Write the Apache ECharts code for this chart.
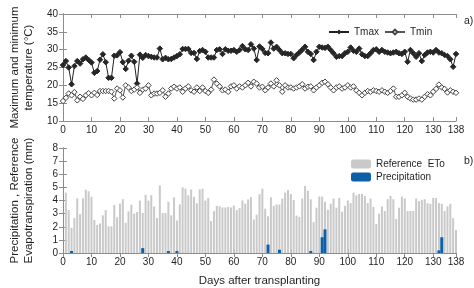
<!DOCTYPE html>
<html><head><meta charset="utf-8">
<script src="https://cdn.jsdelivr.net/npm/echarts@6/dist/echarts.min.js"></script>
<style>html,body{margin:0;padding:0;background:#fff}#c{width:474px;height:288px}</style>
</head><body><div id="c"></div>
<script>
// Daily temperatures, day 0 .. 138
const tmax = [25.7,26.8,25.0,20.3,25.4,26.8,26.1,27.3,27.8,27.1,
26.4,23.5,24.0,27.2,28.7,26.5,22.1,22.1,28.3,28.4,
29.3,26.5,24.6,26.9,28.3,26.6,20.5,28.6,27.7,28.5,
28.2,28.0,27.8,27.8,30.3,27.3,27.7,27.3,27.4,27.8,
28.2,28.7,30.2,30.2,30.2,29.1,29.1,27.4,29.6,29.9,
29.4,27.8,27.8,27.8,29.9,30.1,28.8,30.1,29.7,29.7,
29.9,29.4,29.9,31.0,30.1,29.9,31.5,30.3,27.1,30.9,
30.2,29.1,29.0,32.0,30.3,30.8,29.9,29.0,29.0,28.8,
28.8,27.6,28.5,29.2,30.0,30.8,29.4,28.8,27.1,29.4,
30.8,30.6,30.5,30.8,29.9,29.0,28.0,28.2,28.2,29.0,
29.4,30.6,29.7,29.4,30.3,28.7,28.2,28.2,29.0,29.9,
30.1,29.4,29.9,29.4,29.2,29.0,29.2,29.4,29.0,28.8,
29.4,26.6,29.9,29.0,28.0,29.0,26.8,28.5,29.2,29.4,
29.2,29.9,29.2,29.0,28.5,28.2,27.3,25.2,28.8];
const tmin = [15.6,16.5,17.7,17.2,18.1,15.8,16.8,16.2,17.2,17.8,
17.2,17.9,17.3,18.4,18.4,18.4,18.4,18.2,16.3,19.1,
18.6,16.6,20.0,19.4,18.4,18.8,19.4,17.9,18.8,19.1,
20.0,17.2,17.7,17.7,17.9,18.6,16.8,17.7,19.1,19.6,
19.1,19.4,18.2,19.1,19.7,18.6,18.2,19.4,18.4,19.4,
18.4,17.9,18.8,21.6,20.5,19.7,18.6,18.8,18.2,19.7,
20.0,19.1,19.7,19.4,20.0,20.7,19.7,21.0,20.5,19.4,
19.6,18.6,19.4,20.5,19.7,21.4,20.0,18.2,20.0,19.4,
19.4,19.1,19.4,19.7,20.3,19.1,19.6,19.7,18.6,19.4,
20.0,20.7,21.0,20.3,19.4,18.6,19.4,19.7,19.1,19.4,
20.0,19.4,19.7,18.6,17.9,17.2,17.9,18.4,18.2,18.6,
18.4,18.2,18.6,18.2,17.9,18.4,19.1,16.8,16.8,17.2,
17.9,16.8,16.3,16.0,16.0,16.3,16.0,16.8,17.5,17.2,
18.2,19.0,20.2,19.4,19.0,18.0,18.6,18.2,17.9];
// Reference ETo, day 1 .. 138
const eto = [4.6,3.27,1.93,2.67,4.16,2.97,4.16,4.83,4.7,4.28,
2.52,2.13,2.25,2.87,3.27,2.03,2.03,3.66,2.72,3.76,
4.1,2.3,3.17,3.69,3.0,3.12,3.99,3.04,4.43,3.99,
4.4,3.54,2.67,5.15,3.04,3.04,3.9,2.87,4.23,2.48,
3.71,5.0,4.9,4.4,4.83,4.28,3.79,4.85,4.9,4.0,
4.2,2.43,3.19,3.59,3.56,3.47,3.47,3.5,3.47,3.61,
3.27,3.42,4.0,3.76,4.08,4.26,2.55,2.92,4.48,4.9,
3.37,2.8,4.25,3.6,3.7,3.7,4.15,4.6,4.8,4.5,
4.05,2.85,2.75,4.15,5.1,4.75,4.1,2.35,3.45,4.3,
4.3,3.9,3.3,3.75,4.15,3.45,4.2,3.15,3.6,4.0,
3.8,4.6,4.4,4.5,4.5,4.35,3.8,4.15,3.5,2.2,
3.0,3.55,3.2,4.1,4.35,4.1,2.6,3.45,4.3,4.15,
3.2,3.2,3.2,4.15,3.95,4.05,4.1,3.8,3.75,4.2,
4.2,3.8,3.75,3.2,3.55,3.75,2.65,1.75];
const precipDays = [3,28,37,40,72,76,87,91,92,132,133];
const precipVals = [0.15,0.37,0.15,0.15,0.64,0.25,0.15,1.2,1.8,0.2,1.2];
const xTicksMax = 138;

const font = 'Liberation Sans, Arial, sans-serif';
const axisCol = '#8c8c8c';
const txtCol = '#1f1f1f';
const tickFs = 10, nameFs = 11.5, legFs = 10;
function xAx(grid, pos, labels, extra) {
  return Object.assign({
    type: 'value', gridIndex: grid, position: pos, min: 0, max: xTicksMax, interval: 10,
    axisLine: {show: true, lineStyle: {color: axisCol, width: 1}},
    axisTick: {show: true, inside: true, length: 4, lineStyle: {color: axisCol}},
    axisLabel: {show: labels, color: txtCol, fontSize: tickFs, fontFamily: font, margin: 4,
      showMaxLabel: true, showMinLabel: true},
    splitLine: {show: false}
  }, extra || {});
}
function yAx(grid, pos, min, max, itv, labels, extra) {
  return Object.assign({
    type: 'value', gridIndex: grid, position: pos, min: min, max: max, interval: itv,
    axisLine: {show: true, lineStyle: {color: axisCol, width: 1}},
    axisTick: {show: true, inside: true, length: 4, lineStyle: {color: axisCol}},
    axisLabel: {show: labels, color: txtCol, fontSize: tickFs, fontFamily: font, margin: 5},
    splitLine: {show: false}
  }, extra || {});
}
const chart = echarts.init(document.getElementById('c'), null, {renderer: 'canvas'});
chart.setOption({
  animation: false,
  backgroundColor: '#fff',
  textStyle: {fontFamily: font},
  grid: [
    {left: 47, right: 18, top: 14, height: 107},
    {left: 47, right: 18, top: 148, height: 108}
  ],
  xAxis: [
    xAx(0, 'bottom', true),
    xAx(0, 'top', false),
    xAx(1, 'bottom', true, {name: 'Days after transplanting', nameLocation: 'middle', nameGap: 22,
      nameTextStyle: {color: txtCol, fontSize: nameFs, fontFamily: font}}),
    xAx(1, 'top', false)
  ],
  yAxis: [
    yAx(0, 'left', 10, 40, 5, true, {name: 'Maximum and minimum\ntemperature (°C)', nameLocation: 'middle',
      nameGap: 27, nameRotate: 90, nameTextStyle: {color: txtCol, fontSize: nameFs, fontFamily: font, lineHeight: 14}}),
    yAx(0, 'right', 10, 40, 5, false),
    yAx(1, 'left', 0, 8, 1, true, {name: 'Precipitation , Reference\nEvapotranspiration (mm)', nameLocation: 'middle',
      nameGap: 27, nameRotate: 90, nameTextStyle: {color: txtCol, fontSize: nameFs, fontFamily: font, lineHeight: 14}}),
    yAx(1, 'right', 0, 8, 1, false)
  ],
  legend: [
    {data: ['Tmax', 'Tmin'], left: 328, top: 27, itemWidth: 20, itemHeight: 6, itemGap: 5,
      textStyle: {color: txtCol, fontSize: legFs, fontFamily: font}, padding: 0},
    {data: ['Reference  ETo', 'Precipitation'], orient: 'vertical', left: 351, top: 158,
      itemWidth: 20, itemHeight: 9, itemGap: 1, padding: 0,
      textStyle: {color: txtCol, fontSize: legFs, fontFamily: font, lineHeight: 12}}
  ],
  graphic: [
    {type: 'text', left: 464, top: 16, style: {text: 'a)', fill: txtCol, fontSize: 10.5, fontFamily: font}},
    {type: 'text', left: 464, top: 156, style: {text: 'b)', fill: txtCol, fontSize: 10.5, fontFamily: font}}
  ],
  series: [
    {name: 'Tmax', type: 'line', xAxisIndex: 0, yAxisIndex: 0,
      data: tmax.map((v, i) => [i, v]),
      symbol: 'diamond', symbolSize: 5.5, showSymbol: true,
      lineStyle: {color: '#222', width: 1}, itemStyle: {color: '#262626', borderColor: '#262626'}},
    {name: 'Tmin', type: 'line', xAxisIndex: 0, yAxisIndex: 0,
      data: tmin.map((v, i) => [i, v]),
      symbol: 'diamond', symbolSize: 5.5, showSymbol: true,
      lineStyle: {color: '#555', width: 1}, itemStyle: {color: '#fff', borderColor: '#444', borderWidth: 1}},
    {name: 'Reference  ETo', type: 'bar', xAxisIndex: 2, yAxisIndex: 2,
      data: eto.map((v, i) => [i + 1, v]), barWidth: 2,
      itemStyle: {color: '#c9c9c9'}},
    {name: 'Precipitation', type: 'bar', xAxisIndex: 3, yAxisIndex: 2,
      data: precipDays.map((d, i) => [d, precipVals[i]]), barWidth: 3, z: 3,
      itemStyle: {color: '#0d5fa6'}}
  ]
});
</script></body></html>
